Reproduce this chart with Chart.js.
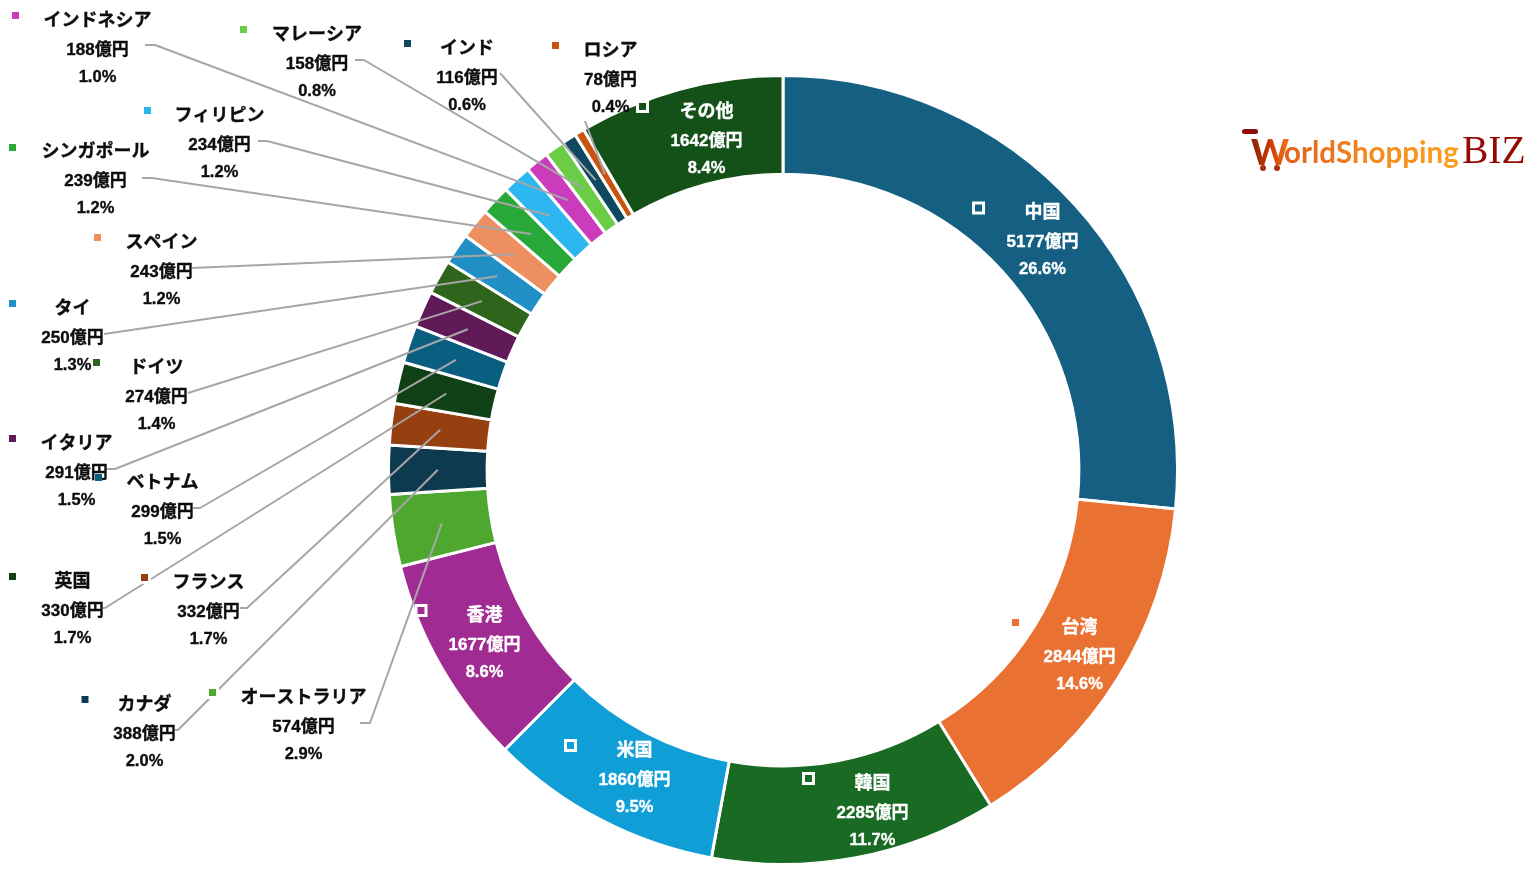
<!DOCTYPE html>
<html><head><meta charset="utf-8">
<style>html,body{margin:0;padding:0;background:#fff}#w{position:relative;width:1534px;height:880px}</style>
<script src="https://cdn.jsdelivr.net/npm/chart.js@4"></script>
</head><body><div id="w"><canvas id="c" width="1534" height="880"></canvas></div>
<script>
const categories=["中国","台湾","韓国","米国","香港","オーストラリア","カナダ","フランス","英国","ベトナム","イタリア","ドイツ","タイ","スペイン","シンガポール","フィリピン","インドネシア","マレーシア","インド","ロシア","その他"];
const valuesOku=[5177,2844,2285,1860,1677,574,388,332,330,299,291,274,250,243,239,234,188,158,116,78,1642];
const percentLabels=["26.6%","14.6%","11.7%","9.5%","8.6%","2.9%","2.0%","1.7%","1.7%","1.5%","1.5%","1.4%","1.3%","1.2%","1.2%","1.2%","1.0%","0.8%","0.6%","0.4%","8.4%"];
const sliceColors=["#156082","#E97132","#196B24","#0F9ED5","#A02B93","#4EA72E","#0D3A4E","#963F10","#0F4016","#0A5F80","#601A58","#2F641C","#1F8FC4","#EE8F5F","#28A838","#2DB7F0","#CB3CBC","#6ACD45","#104862","#C9540F","#135119"];
// label layout: [text centre x, name y, marker x, marker y, leader start x, leader elbow x, leader y]
const labelLayout=[
[1042.5,211.5,978.5,208],[1079.5,626.5,1015.5,622.5],[872.5,782.5,808.5,778.5],[634.5,749.5,570.5,745.5],[484.5,614.5,421,610.5],
[303.5,696.5,212.5,692.5,360,370,723],[144.5,703.5,85,699.5,175,178,730],[208.5,581.5,144.5,577.5,240,247,608],[72.5,580.5,12.5,576.5,103,105,608],
[162.5,481.5,98.5,477.5,193,200,508],[76.5,442.5,12.5,438.5,106,115,469],[156.5,366.5,96.5,362.5,188,188,393],[72.5,307.5,12.5,303.5,104,104,334],
[161.5,241.5,97.5,237.5,192,192,268],[95.5,150.5,12.5,147.5,142,152,178],[219.5,114.5,147.5,110.5,258,267,141],[97.5,19.5,15.5,15.5,145,155,45],
[317,33.5,243.5,29.5,355,364,60],[467,47.5,407.5,43.5,500,500,73],[610.5,49.5,555.5,45.5,585,585,121],[706.5,110.5,642.5,106.5]];
const insideSlices=[0,1,2,3,4,20];

function boldText(ctx,t,x,y){ctx.fillText(t,x,y);ctx.lineWidth=0.35;ctx.strokeStyle=ctx.fillStyle;ctx.strokeText(t,x,y);}

const labelPlugin={id:'labels',afterDatasetsDraw(chart){
  const ctx=chart.ctx, arcs=chart.getDatasetMeta(0).data;
  ctx.save();
  // leaders
  ctx.strokeStyle='#A6A6A6';ctx.lineWidth=2;ctx.lineJoin='round';
  labelLayout.forEach((l,i)=>{
    if(l.length<7)return;
    const p=arcs[i].getCenterPoint();
    ctx.beginPath();ctx.moveTo(l[4],l[6]);ctx.lineTo(l[5],l[6]);ctx.lineTo(p.x,p.y);ctx.stroke();
  });
  // legend key halo goes under the text, key fill over it
  labelLayout.forEach((l,i)=>{
    ctx.fillStyle='#FFFFFF';ctx.fillRect(l[2]-6.5,l[3]-6.5,13,13);
  });
  // text
  ctx.textAlign='center';ctx.textBaseline='middle';
  labelLayout.forEach((l,i)=>{
    ctx.fillStyle=insideSlices.includes(i)?'#FFFFFF':'#0D0D0D';
    ctx.font='bold 18px "Liberation Sans","Noto Sans CJK JP"';
    boldText(ctx,categories[i],l[0],l[1]+2);
    ctx.font='bold 17px "Liberation Sans","Noto Sans CJK JP"';
    boldText(ctx,valuesOku[i]+'億円',l[0],l[1]+31);
    ctx.font='bold 16.5px "Liberation Sans","Noto Sans CJK JP"';
    boldText(ctx,percentLabels[i],l[0],l[1]+58);
  });
  labelLayout.forEach((l,i)=>{
    ctx.fillStyle=sliceColors[i];ctx.fillRect(l[2]-3.5,l[3]-3.5,7,7);
  });
  // logo
  const g=ctx.createLinearGradient(1285,0,1460,0);
  g.addColorStop(0,'#E4601A');g.addColorStop(.5,'#F58A1F');g.addColorStop(1,'#FCA01E');
  const gw=ctx.createLinearGradient(1253,0,1286,0);
  gw.addColorStop(0,'#8E2506');gw.addColorStop(.5,'#C93A05');gw.addColorStop(1,'#EE6F16');
  ctx.textAlign='left';ctx.textBaseline='alphabetic';
  ctx.fillStyle='#8E0B08';ctx.beginPath();ctx.roundRect(1242,129,16,5,2.5);ctx.fill();
  ctx.font='900 36px "Lato"';ctx.fillStyle=gw;ctx.fillText('W',1251,165);
  ctx.fillStyle='#A8300A';ctx.beginPath();ctx.arc(1263,168,3,0,7);ctx.fill();ctx.beginPath();ctx.arc(1277,168,3,0,7);ctx.fill();
  ctx.font='bold 29.5px "Lato"';ctx.fillStyle=g;ctx.fillText('orldShopping',1284,163);
  ctx.font='39.5px "Liberation Serif"';ctx.fillStyle='#960A05';ctx.fillText('BIZ',1462,163);
  ctx.restore();
}};

new Chart(document.getElementById('c'),{
  type:'doughnut',
  data:{labels:categories,datasets:[{data:valuesOku,backgroundColor:sliceColors,borderColor:'#FFFFFF',borderWidth:3}]},
  options:{responsive:false,animation:false,cutout:'75%',
    layout:{padding:{left:387,right:355,top:74,bottom:14}},
    plugins:{legend:{display:false},tooltip:{enabled:false}}},
  plugins:[labelPlugin]
});
</script></body></html>
